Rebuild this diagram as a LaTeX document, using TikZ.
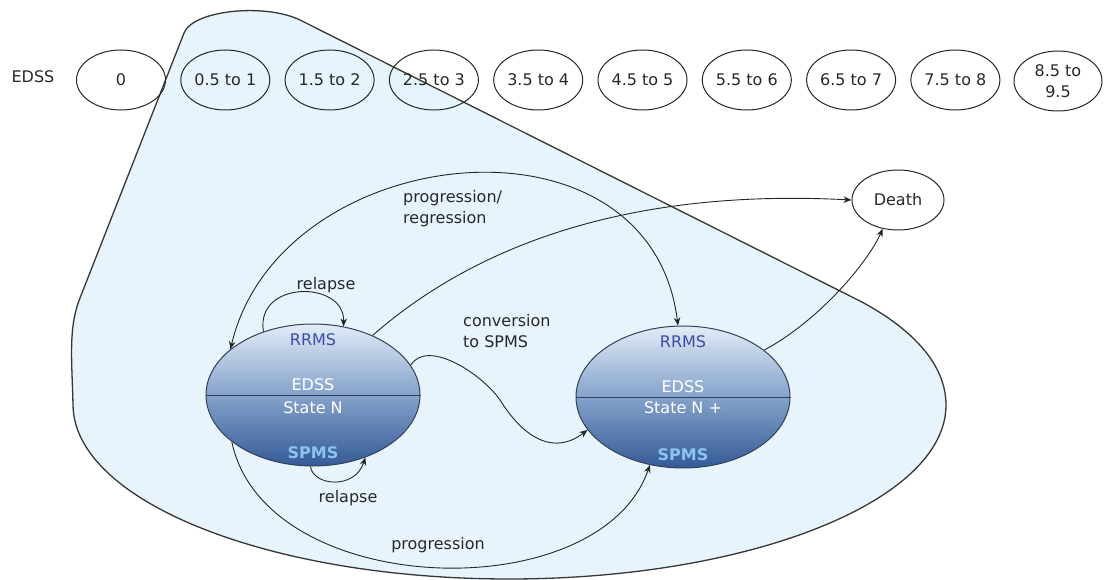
\documentclass[tikz,border=0pt]{standalone}
\usepackage{fontspec}
\setmainfont{DejaVu Sans}
\usetikzlibrary{shapes.geometric,arrows.meta}
\definecolor{blobfill}{RGB}{231,244,252}
\definecolor{blobline}{RGB}{55,55,55}
\definecolor{stTop}{RGB}{226,236,247}
\definecolor{stMid}{RGB}{132,162,202}
\definecolor{stBot}{RGB}{52,90,150}
\definecolor{stLine}{RGB}{50,65,90}
\definecolor{rrms}{RGB}{60,75,170}
\definecolor{spms}{RGB}{140,195,245}
\definecolor{txt}{RGB}{40,40,40}
\begin{document}
\begin{tikzpicture}[x=1pt,y=-1pt,
  lab/.style={font=\fontsize{16}{21}\selectfont, text=txt, inner sep=0pt, align=left},
  edss/.style={ellipse, draw=black!85, line width=1pt, minimum width=89pt, minimum height=60pt, inner sep=0pt, font=\fontsize{16}{21}\selectfont, text=txt, align=center},
  state/.style={ellipse, draw=stLine, line width=1pt, minimum width=214pt, minimum height=142pt, top color=stTop, bottom color=stBot, middle color=stMid, inner sep=0pt},
  intext/.style={font=\fontsize{16}{20}\selectfont, inner sep=0pt},
  conn/.style={draw=black!85, line width=0.9pt, -{Stealth[length=8pt,width=6.5pt]}},
]
\fill[white] (0,0) rectangle (1104,580);
\useasboundingbox (0,0) rectangle (1104,580);

% background region
\draw[fill=blobfill, draw=blobline, line width=1.3pt]
  (300,20) -- (860,301)
  .. controls (916.5,331) and (946,367) .. (946,405)
  .. controls (946,501) and (750,579) .. (509,579)
  .. controls (268,579) and (74,501) .. (73,405)
  .. controls (72,360) and (68,328) .. (80,298)
  -- (184,33)
  .. controls (193,10) and (265,3) .. (300,20) -- cycle;

% EDSS scale
\node[lab] (edsslab) at (33,77) {EDSS};
\node[edss] (e0) at (121,80) {0};
\node[edss] (e1) at (225.3,80) {0.5 to 1};
\node[edss] (e2) at (329.6,80) {1.5 to 2};
\node[edss] (e3) at (433.9,80) {2.5 to 3};
\node[edss] (e4) at (538.2,80) {3.5 to 4};
\node[edss] (e5) at (642.5,80) {4.5 to 5};
\node[edss] (e6) at (746.8,80) {5.5 to 6};
\node[edss] (e7) at (851.1,80) {6.5 to 7};
\node[edss] (e8) at (955.4,80) {7.5 to 8};
\node[edss, minimum width=88pt] (e9) at (1058,81) {8.5 to\\9.5};

% states
\node[state] (L) at (313,395) {};
\node[state] (R) at (683,397) {};
\draw[stLine, line width=1pt] (L.west) -- (L.east);
\draw[stLine, line width=1pt] (R.west) -- (R.east);
\node[intext, text=rrms] (Lr) at ([yshift=55pt]L.center) {RRMS};
\node[intext, text=white] (Le) at ([yshift=10pt]L.center) {EDSS};
\node[intext, text=white] (Ls) at ([yshift=-13pt]L.center) {State N};
\node[intext, text=spms, font=\fontsize{16}{20}\selectfont\bfseries] (Lp) at ([yshift=-58pt]L.center) {SPMS};
\node[intext, text=rrms] (Rr) at ([yshift=55pt]R.center) {RRMS};
\node[intext, text=white] (Re) at ([yshift=10pt]R.center) {EDSS};
\node[intext, text=white] (Rs) at ([yshift=-11pt]R.center) {State N +};
\node[intext, text=spms, font=\fontsize{16}{20}\selectfont\bfseries] (Rp) at ([yshift=-58pt]R.center) {SPMS};

\node[ellipse, draw=black!85, line width=1pt, minimum width=92pt, minimum height=60pt, inner sep=0pt, font=\fontsize{16}{20}\selectfont, text=txt] (D) at (898,200) {Death};

% connectors
\draw[conn] (L.128) .. controls (255,280) and (345,280) .. (L.66);
\draw[conn] (L.-92) .. controls (313,486) and (355,490) .. (L.-50);
\draw[draw=black!85, line width=0.9pt, {Stealth[length=8pt,width=6.5pt]}-{Stealth[length=8pt,width=6.5pt]}]
  (L.151) .. controls (280,140) and (650,100) .. (R.94);
\draw[conn] (L.45) .. controls (470,250) and (620,188) .. (D.west);
\draw[conn] (R.30) .. controls (820,320) and (868,262) .. (D.-118);
\coordinate (cvm) at (500,400);
\draw[conn] (L.17) .. controls (428,338) and (483,375) .. (cvm)
  .. controls (525,440) and (555,455) .. (R.-161);
\draw[conn] (L.-150) .. controls (265,600) and (600,610) .. (R.-116);

% labels
\node[lab] (relA) at (326,285) {relapse};
\node[lab] (relB) at (348,498) {relapse};
\node[lab, anchor=west] (pr) at (403,209) {progression/\\regression};
\node[lab, anchor=west] (cv) at (463,331) {conversion\\to SPMS};
\node[lab] (pg) at (438,545) {progression};
\end{tikzpicture}
\end{document}
